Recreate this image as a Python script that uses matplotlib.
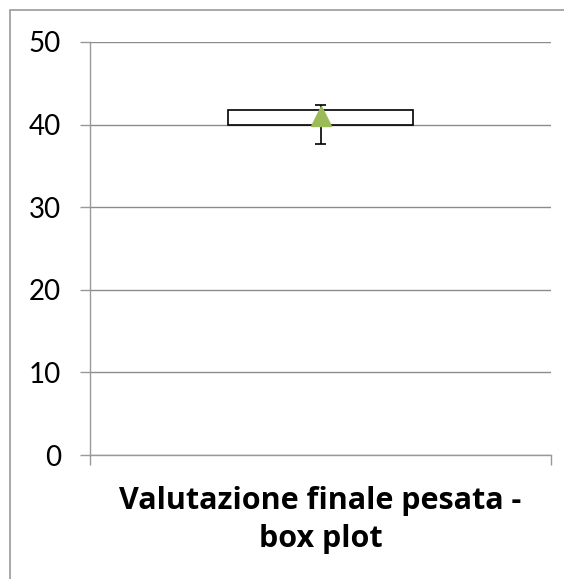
import matplotlib.pyplot as plt
from matplotlib.patches import Rectangle

# box plot values
category = "Valutazione finale pesata -\nbox plot"
q1 = 40.0
q3 = 41.8
whisker_low = 37.7
whisker_high = 42.4
mean_value = 41.0
y_ticks = [0, 10, 20, 30, 40, 50]

grey = "#999999"
font = ["Lato", "DejaVu Sans"]

fig = plt.figure(figsize=(5.64, 5.79), dpi=100)
ax = fig.add_axes([90 / 564, 1 - 455 / 579, (551 - 90) / 564, (455 - 42) / 579])

# outer chart frame (only left and top edges visible)
fig.patches.append(Rectangle((10 / 564, -0.1), 1.2, 1 - 10 / 579 + 0.1,
                             transform=fig.transFigure, fill=False,
                             edgecolor=grey, linewidth=1.2))

x = 0.5
ax.vlines(x, whisker_low, q1, color="black", linewidth=1.2, zorder=2)
ax.vlines(x, q3, whisker_high, color="black", linewidth=1.2, zorder=2)
ax.hlines([whisker_low, whisker_high], x - 0.013, x + 0.013, color="black", linewidth=1.2, zorder=2)
ax.bar(x, q3 - q1, bottom=q1, width=0.4, facecolor="white", edgecolor="black",
       linewidth=1.2, zorder=3)
ax.plot([x], [mean_value], marker="^", markersize=15, color="#9BBB59", zorder=4,
        linestyle="none")

ax.set_xlim(0, 1)
ax.set_ylim(0, 50)
ax.set_yticks(y_ticks)
ax.set_xticks([0, 1])
ax.set_xticklabels([])
ax.grid(axis="y", color="#8c8c8c", linewidth=1.0, zorder=0)
ax.set_axisbelow(True)

for side in ["top", "right"]:
    ax.spines[side].set_visible(False)
for side in ["left", "bottom"]:
    ax.spines[side].set_color(grey)
    ax.spines[side].set_linewidth(1.0)

ax.tick_params(axis="y", length=7, width=1, color=grey, labelsize=20, pad=14)
ax.tick_params(axis="x", length=7, width=1, color=grey)
for lab in ax.get_yticklabels():
    lab.set_fontfamily(font)

ax.set_xlabel(category, fontsize=22, fontweight="bold", family=["Open Sans", "DejaVu Sans"],
              labelpad=12, linespacing=1.35)

fig.savefig("out.png", dpi=100)
